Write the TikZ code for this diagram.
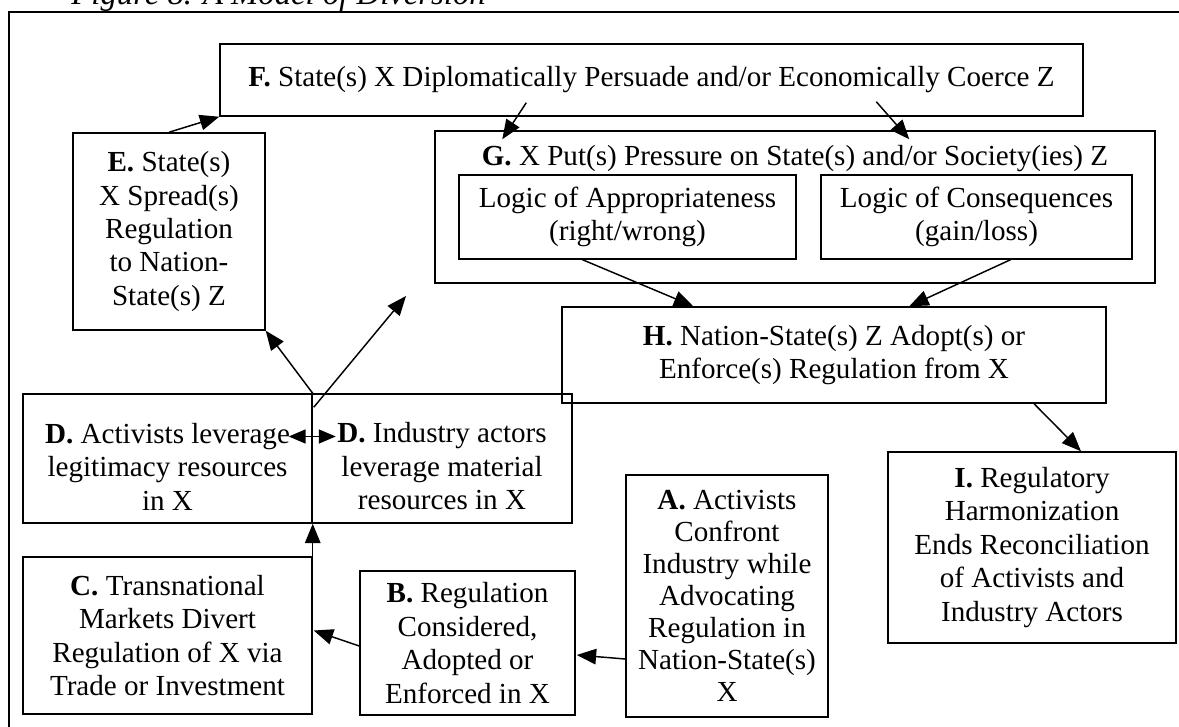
\documentclass[tikz,border=0pt]{standalone}
\usepackage{fontspec}
\setmainfont{Liberation Serif}
\usetikzlibrary{arrows.meta,calc}
\begin{document}
\begin{tikzpicture}[x=0.4124pt,y=-0.4124pt,
  txt/.style={font=\fontsize{12pt}{13.8pt}\selectfont},
  box/.style={draw,line width=0.6pt,inner sep=0pt,align=center,txt},
  lbl/.style={inner sep=0pt,align=center,txt},
  sz/.style 2 args={minimum width=#1*0.4124pt,minimum height=#2*0.4124pt},
  arr/.style={line width=0.6pt,-{Triangle[length=8pt,width=6.4pt]}},
  darr/.style={line width=0.6pt,{Triangle[length=7pt,width=5.8pt]}-{Triangle[length=7pt,width=5.8pt]}},
  frame/.style={line width=0.9pt}]

\useasboundingbox (0,0) rectangle (1179,727);
\clip (0,0) rectangle (1179,727);

% caption and surrounding frame
\node[anchor=base west,inner sep=0pt,font=\fontsize{13.5pt}{16pt}\selectfont\itshape] (cap) at (71,5) {Figure 8. A Model of Diversion};
\draw[frame] (9,760) -- (9,12) -- (1200,12);

% boxes
\node[box,sz={863}{72}] (F) at (651.5,80) {\textbf{F.} State(s) X Diplomatically Persuade and/or Economically Coerce Z};
\node[box,sz={720}{152}] (G) at (795,207) {};
\node[lbl,anchor=base] (Gt) at (795,166) {\textbf{G.} X Put(s) Pressure on State(s) and/or Society(ies) Z};
\node[box,sz={337}{84}] (GA) at (627.5,217) {Logic of Appropriateness\\(right/wrong)};
\node[box,sz={311}{84}] (GC) at (976.5,217) {Logic of Consequences\\(gain/loss)};
\node[box,sz={192}{197}] (E) at (169,231.5) {\textbf{E.} State(s)\\X Spread(s)\\Regulation\\to Nation-\\State(s) Z};
\node[box,sz={544}{96}] (H) at (834,355) {\textbf{H.} Nation-State(s) Z Adopt(s) or\\Enforce(s) Regulation from X};
\node[box,sz={288}{191}] (I) at (1032,547.5) {\textbf{I.} Regulatory\\Harmonization\\Ends Reconciliation\\of Activists and\\Industry Actors};
\node[box,sz={289}{129}] (DL) at (167.5,458.5) {};
\node[lbl] (DLt) at ($(DL.center)+(0,8)$) {\textbf{D.} Activists leverage\\legitimacy resources\\in X};
\node[box,sz={260}{129}] (DR) at (442,458.5) {};
\node[lbl] (DRt) at ($(DR.center)+(0,8)$) {\textbf{D.} Industry actors\\leverage material\\resources in X};
\node[box,sz={289}{157}] (C) at (167.5,635.5) {\textbf{C.} Transnational\\Markets Divert\\Regulation of X via\\Trade or Investment};
\node[box,sz={215}{144}] (B) at (467.5,643) {\textbf{B.} Regulation\\Considered,\\Adopted or\\Enforced in X};
\node[box,sz={202}{242},font=\fontsize{12pt}{13.2pt}\selectfont] (A) at (727,596) {\textbf{A.} Activists\\Confront\\Industry while\\Advocating\\Regulation in\\Nation-State(s)\\X};

% connectors
\coordinate (up) at (406,296);
\draw[arr] (E.north) -- (F.south west);
\draw[arr] ($(F.south west)+(307,-14)$) -- ($(G.north west)+(68,9)$);
\draw[arr] ($(F.south west)+(657,-15)$) -- ($(G.north west)+(475,9)$);
\draw[arr] ($(GA.south)+(-45,0)$) -- ($(H.north west)+(132,0)$);
\draw[arr] ($(GC.south)+(34,0)$) -- ($(H.north west)+(348,0)$);
\draw[arr] ($(H.south)+(200,0)$) -- ($(I.north)+(49,0)$);
\draw[arr] ($(A.west)+(0,63)$) -- ($(B.east)+(1,12)$);
\draw[arr] ($(B.west)+(0,3)$) -- ($(C.east)+(1,-5)$);
\draw[arr] (C.north east) -- (DL.south east);
\draw[arr] (DL.north east) -- (E.south east);
\draw[arr] ($(DL.north east)+(1,14)$) -- (up);
\draw[darr] ($(DL.east)+(-24,-22)$) -- ($(DL.east)+(23,-22)$);
\end{tikzpicture}
\end{document}
